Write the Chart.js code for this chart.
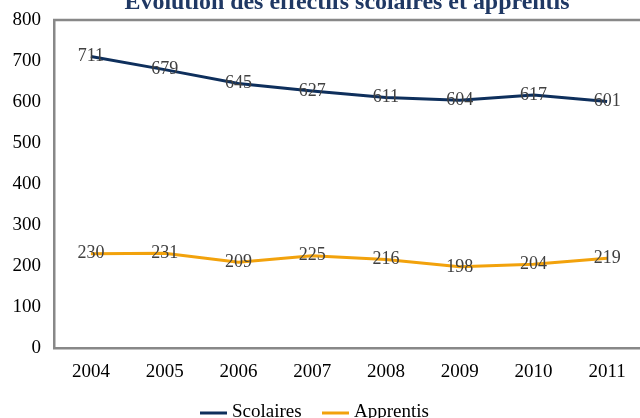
<!DOCTYPE html>
<html>
<head>
<meta charset="utf-8">
<script src="https://cdn.jsdelivr.net/npm/chart.js@4"></script>
<style>
  html, body { margin: 0; padding: 0; background: #fff; overflow: hidden; }
  #wrap { width: 644px; height: 418px; }
</style>
</head>
<body>
<div id="wrap"><canvas id="effectifsChart"></canvas></div>
<script>
// Effectifs par année
const years = ['2004', '2005', '2006', '2007', '2008', '2009', '2010', '2011'];
const scolaires = [711, 679, 645, 627, 611, 604, 617, 601];
const apprentis = [230, 231, 209, 225, 216, 198, 204, 219];
const yTicks = [0, 100, 200, 300, 400, 500, 600, 700, 800];

const titre = 'Évolution des effectifs scolaires et apprentis';
const serif = '"Liberation Serif", "DejaVu Serif", serif';

// Cadre gris (haut) + étiquettes de valeurs + titre + légende
const decorations = {
    id: 'decorations',
    afterDatasetsDraw(chart) {
        const ctx = chart.ctx;
        const area = chart.chartArea;
        ctx.save();
        ctx.strokeStyle = '#888888';
        ctx.lineWidth = 2.5;
        ctx.beginPath();
        ctx.moveTo(area.left - 1, area.top);
        ctx.lineTo(area.right, area.top);
        ctx.stroke();

        // valeurs posées sur les points
        ctx.font = '18px ' + serif;
        ctx.fillStyle = '#404040';
        ctx.textAlign = 'center';
        ctx.textBaseline = 'middle';
        chart.data.datasets.forEach((ds, i) => {
            chart.getDatasetMeta(i).data.forEach((pt, j) => {
                ctx.fillText(String(ds.data[j]), pt.x, pt.y);
            });
        });

        // titre
        ctx.font = 'bold 24px ' + serif;
        ctx.fillStyle = '#1f3864';
        ctx.textBaseline = 'alphabetic';
        ctx.fillText(titre, 347, 9, 445);

        // légende
        const items = [
            { x: 200, ds: chart.data.datasets[0] },
            { x: 322, ds: chart.data.datasets[1] }
        ];
        ctx.font = '19px ' + serif;
        ctx.textAlign = 'left';
        items.forEach(it => {
            ctx.strokeStyle = it.ds.borderColor;
            ctx.lineWidth = 3;
            ctx.beginPath();
            ctx.moveTo(it.x, 413);
            ctx.lineTo(it.x + 27, 413);
            ctx.stroke();
            ctx.fillStyle = '#000000';
            ctx.fillText(it.ds.label, it.x + 32, 417);
        });
        ctx.restore();
    }
};

const ctx = document.getElementById('effectifsChart').getContext('2d');
new Chart(ctx, {
    type: 'line',
    data: {
        labels: years,
        datasets: [
            {
                label: 'Scolaires',
                data: scolaires,
                borderColor: '#0e2f5c',
                borderWidth: 3,
                pointRadius: 0,
                tension: 0
            },
            {
                label: 'Apprentis',
                data: apprentis,
                borderColor: '#f2a20c',
                borderWidth: 3,
                pointRadius: 0,
                tension: 0
            }
        ]
    },
    options: {
        responsive: true,
        maintainAspectRatio: false,
        animation: false,
        layout: { padding: { top: 20, left: 0, right: 0, bottom: 0 } },
        plugins: {
            legend: { display: false },
            tooltip: { enabled: false }
        },
        scales: {
            x: {
                offset: true,
                grid: { display: true, drawOnChartArea: false, drawTicks: false },
                border: { display: true, color: '#888888', width: 2.5 },
                ticks: { color: '#000', padding: 13, font: { family: serif, size: 19 } },
                afterFit(scale) { scale.height = 70; }
            },
            y: {
                min: 0,
                max: 800,
                afterBuildTicks(scale) { scale.ticks = yTicks.map(v => ({ value: v })); },
                grid: { display: true, drawOnChartArea: false, drawTicks: false },
                border: { display: true, color: '#888888', width: 2.5 },
                ticks: { color: '#000', padding: 13, font: { family: serif, size: 19 } },
                afterFit(scale) {
                    scale.width = 54;
                    scale.paddingTop = 0;
                    scale.paddingBottom = 0;
                }
            }
        }
    },
    plugins: [decorations]
});
</script>
</body>
</html>
